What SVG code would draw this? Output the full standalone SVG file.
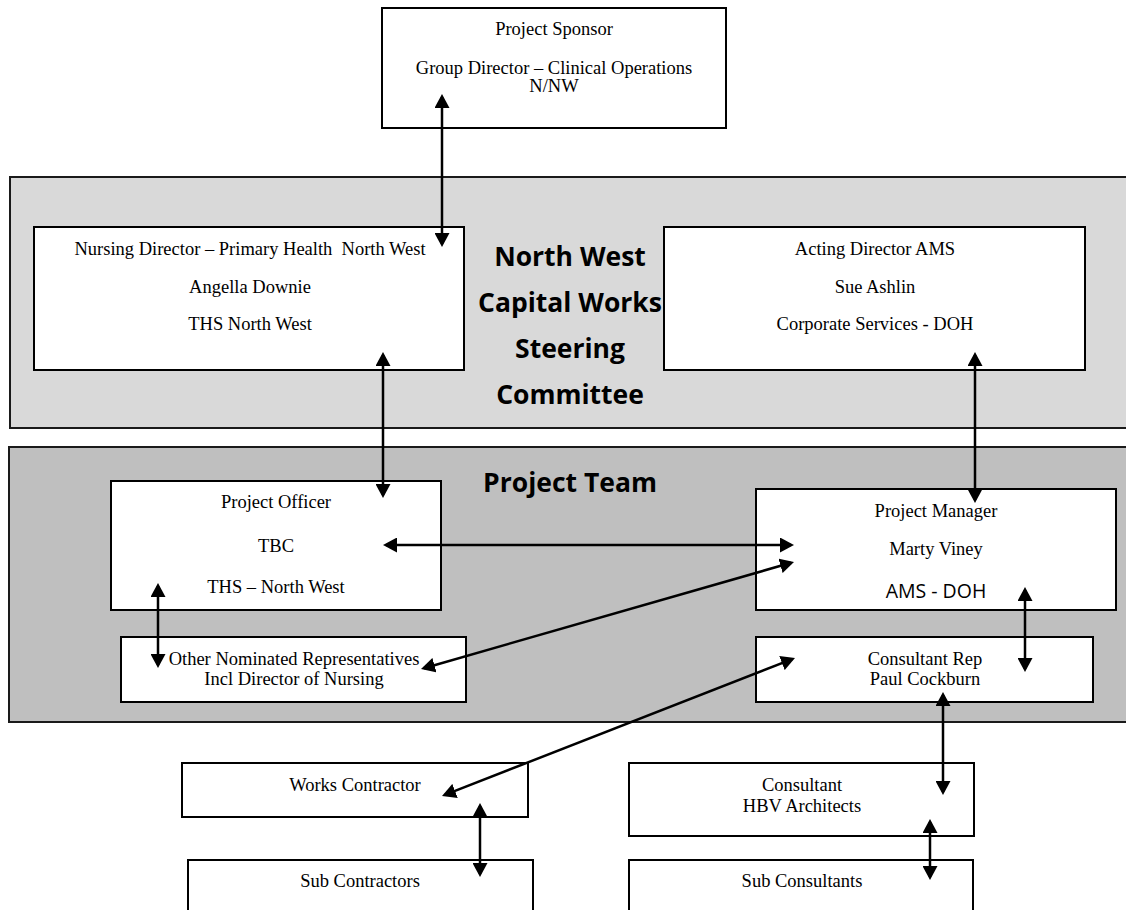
<svg xmlns="http://www.w3.org/2000/svg" width="1126" height="910" viewBox="0 0 1126 910">
  <style>
    .band { stroke: #1a1a1a; stroke-width: 2; }
    .box { fill: #ffffff; stroke: #000000; stroke-width: 2; }
    .t { font-family: "Liberation Serif", "Times New Roman", serif; font-size: 18.5px; fill: #000; text-anchor: middle; }
    .s { font-family: "Open Sans", "Noto Sans", sans-serif; font-size: 19.5px; fill: #000; text-anchor: middle; }
    .h { font-family: "Open Sans", "Noto Sans", sans-serif; font-weight: bold; font-size: 26.5px; fill: #000; text-anchor: middle; }
    .c { stroke: #000; stroke-width: 2.5; fill: none; marker-start: url(#ah); marker-end: url(#ah); }
  </style>
  <defs>
    <marker id="ah" viewBox="0 0 14 15" refX="11" refY="7.5" markerWidth="14" markerHeight="15" markerUnits="userSpaceOnUse" orient="auto-start-reverse">
      <path d="M0,0 L14,7.5 L0,15 z" fill="#000"/>
    </marker>
  </defs>

  <rect width="1126" height="910" fill="#ffffff"/>

  <!-- Steering committee band -->
  <g id="steering-committee">
    <rect class="band" x="10" y="177" width="1122" height="251" fill="#d9d9d9"/>
    <text class="h" x="570" y="266">North West</text>
    <text class="h" x="570" y="312">Capital Works</text>
    <text class="h" x="570" y="358">Steering</text>
    <text class="h" x="570" y="404">Committee</text>
  </g>

  <!-- Project team band -->
  <g id="project-team">
    <rect class="band" x="9" y="447" width="1123" height="275" fill="#bfbfbf"/>
    <text class="h" x="570" y="492">Project Team</text>
  </g>

  <g id="project-sponsor">
    <rect class="box" x="382" y="8" width="344" height="120"/>
    <text class="t" x="554" y="35">Project Sponsor</text>
    <text class="t" x="554" y="74">Group Director – Clinical Operations</text>
    <text class="t" x="554" y="92">N/NW</text>
  </g>

  <g id="nursing-director">
    <rect class="box" x="34" y="227" width="430" height="143"/>
    <text class="t" x="250" y="255" xml:space="preserve">Nursing Director – Primary Health  North West</text>
    <text class="t" x="250" y="293">Angella Downie</text>
    <text class="t" x="250" y="330">THS North West</text>
  </g>

  <g id="acting-director">
    <rect class="box" x="664" y="227" width="421" height="143"/>
    <text class="t" x="875" y="255">Acting Director AMS</text>
    <text class="t" x="875" y="293">Sue Ashlin</text>
    <text class="t" x="875" y="330">Corporate Services - DOH</text>
  </g>

  <g id="project-officer">
    <rect class="box" x="111" y="481" width="330" height="129"/>
    <text class="t" x="276" y="508">Project Officer</text>
    <text class="t" x="276" y="552">TBC</text>
    <text class="t" x="276" y="593">THS – North West</text>
  </g>

  <g id="project-manager">
    <rect class="box" x="756" y="489" width="360" height="121"/>
    <text class="t" x="936" y="517">Project Manager</text>
    <text class="t" x="936" y="555">Marty Viney</text>
    <text class="s" x="936" y="598">AMS - DOH</text>
  </g>

  <g id="other-representatives">
    <rect class="box" x="121" y="637" width="345" height="65"/>
    <text class="t" x="294" y="665">Other Nominated Representatives</text>
    <text class="t" x="294" y="685">Incl Director of Nursing</text>
  </g>

  <g id="consultant-rep">
    <rect class="box" x="756" y="637" width="337" height="65"/>
    <text class="t" x="925" y="665">Consultant Rep</text>
    <text class="t" x="925" y="685">Paul Cockburn</text>
  </g>

  <g id="works-contractor">
    <rect class="box" x="182" y="763" width="346" height="54"/>
    <text class="t" x="355" y="791">Works Contractor</text>
  </g>

  <g id="consultant">
    <rect class="box" x="629" y="763" width="345" height="73"/>
    <text class="t" x="802" y="791">Consultant</text>
    <text class="t" x="802" y="812">HBV Architects</text>
  </g>

  <g id="sub-contractors">
    <rect class="box" x="188" y="860" width="345" height="70"/>
    <text class="t" x="360" y="887">Sub Contractors</text>
  </g>

  <g id="sub-consultants">
    <rect class="box" x="629" y="860" width="344" height="70"/>
    <text class="t" x="802" y="887">Sub Consultants</text>
  </g>

  <!-- Two-way reporting lines -->
  <g id="connectors">
    <line class="c" x1="442" y1="97" x2="442" y2="244"/>
    <line class="c" x1="383" y1="355" x2="383" y2="495"/>
    <line class="c" x1="975" y1="355" x2="975" y2="500"/>
    <line class="c" x1="386" y1="545" x2="791" y2="545"/>
    <line class="c" x1="158" y1="586" x2="158" y2="665"/>
    <line class="c" x1="423.9" y1="668.2" x2="791.1" y2="562.8"/>
    <line class="c" x1="1025" y1="590" x2="1025" y2="669"/>
    <line class="c" x1="792.2" y1="659.1" x2="444.8" y2="794.9"/>
    <line class="c" x1="943" y1="695" x2="943" y2="792"/>
    <line class="c" x1="480" y1="806" x2="480" y2="874"/>
    <line class="c" x1="930" y1="822" x2="930" y2="877"/>
  </g>
</svg>
